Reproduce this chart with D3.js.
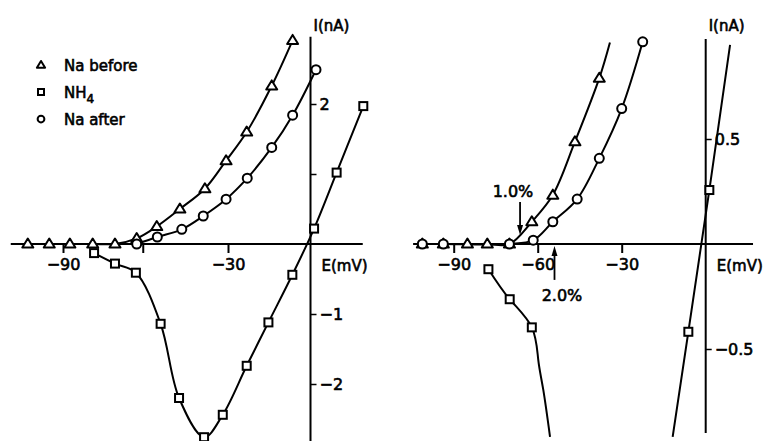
<!DOCTYPE html>
<html>
<head>
<meta charset="utf-8">
<script src="https://cdn.jsdelivr.net/npm/d3@7"></script>
<style>
  body { margin: 0; background: #fff; }
  text { font-family: "DejaVu Sans", sans-serif; fill: #000; stroke: #000; stroke-width: 0.6px; }
</style>
</head>
<body>
<svg id="chart"></svg>
<script>
// ---- data: [E (mV), I (nA)] ----
// left panel
const leftNaBefore = [[-102.8, 0], [-95, 0], [-87.5, 0], [-79.2, 0], [-71.1, 0], [-63.2, 0.08], [-55.9, 0.25],
  [-47.5, 0.5], [-38.4, 0.79], [-30.7, 1.19], [-23.2, 1.6], [-14.1, 2.26], [-6.5, 2.91]];
const leftNaAfter = [[-63.2, 0], [-55.7, 0.1], [-46.8, 0.21], [-39, 0.4], [-30.7, 0.64], [-23, 0.94],
  [-14.1, 1.38], [-6.5, 1.84], [2.0, 2.49]];
const leftNH4 = [[-78.7, -0.13], [-71.1, -0.28], [-63.5, -0.41], [-54.5, -1.14], [-47.8, -2.2], [-38.7, -2.76],
  [-31.9, -2.44], [-23.2, -1.74], [-15.3, -1.12], [-6.6, -0.44], [1.3, 0.22], [9.5, 1.02], [19.2, 1.97]];

// right panel
const rightNaBefore = [[-101.2, 0], [-93.7, 0], [-85.1, 0], [-78, 0], [-70.1, 0], [-62.1, 0.106], [-54.6, 0.233],
  [-46.7, 0.487], [-38, 0.79]];
const rightNaBeforeEnd = [-34.2, 0.96];
const rightNaAfter = [[-101.2, 0], [-93.7, 0], [-70.1, 0], [-61.6, 0.018], [-54.6, 0.106], [-45.9, 0.214],
  [-38, 0.408], [-30, 0.645], [-22.5, 0.963]];
const rightNH4Low = [[-77.6, -0.12], [-70, -0.263], [-62.1, -0.397]];
const rightNH4LowTail = [[-59.8, -0.552], [-58, -0.695], [-55.6, -0.918]];
const rightNH4High = [[-6.2, -0.418], [1.3, 0.257]];
const rightNH4HighEnds = [[-11.8, -0.918], [8.7, 0.948]];

const leftXTicks = [-90, -61, -30];
const leftXLabels = ["−90", "", "−30"];
const leftYTicks = [2, 1, -1, -2];
const leftYLabels = ["2", "", "−1", "−2"];
const rightXTicks = [-90, -60, -30];
const rightXLabels = ["−90", "−60", "−30"];
const rightYTicks = [0.5, -0.5];
const rightYLabels = ["0.5", "−0.5"];

const legend = [
  { shape: "triangle", label: "Na before" },
  { shape: "square", label: "NH", sub: "4" },
  { shape: "circle", label: "Na after" }
];

const width = 769, height = 441;
const svg = d3.select("#chart").attr("width", width).attr("height", height);

const xL = d3.scaleLinear().domain([-100, 0]).range([35.5, 310.5]);
const yL = d3.scaleLinear().domain([-3, 3]).range([454, 34]);
const xR = d3.scaleLinear().domain([-100, 0]).range([425.7, 705.7]);
const yR = d3.scaleLinear().domain([-1, 1]).range([454, 34]);

const curve = d3.curveCatmullRom.alpha(0.5);
const sw = 2;

function drawLine(g, pts, x, y, c) {
  g.append("path")
    .datum(pts)
    .attr("fill", "none")
    .attr("stroke", "#000")
    .attr("stroke-width", sw)
    .attr("stroke-linejoin", "round")
    .attr("d", d3.line().x(d => x(d[0])).y(d => y(d[1])).curve(c || curve));
}

function marker(g, shape, cx, cy, s) {
  if (shape === "circle") {
    g.append("circle").attr("cx", cx).attr("cy", cy).attr("r", s * 0.45)
      .attr("fill", "#fff").attr("stroke", "#000").attr("stroke-width", sw);
  } else if (shape === "square") {
    g.append("rect").attr("x", cx - s * 0.4).attr("y", cy - s * 0.4)
      .attr("width", s * 0.8).attr("height", s * 0.8)
      .attr("fill", "#fff").attr("stroke", "#000").attr("stroke-width", sw);
  } else {
    const h = s * 0.9;
    g.append("path")
      .attr("d", `M${cx},${cy - h * 0.6}L${cx + s * 0.55},${cy + h * 0.4}L${cx - s * 0.55},${cy + h * 0.4}Z`)
      .attr("fill", "#fff").attr("stroke", "#000").attr("stroke-width", sw).attr("stroke-linejoin", "round");
  }
}

function drawMarkers(g, pts, x, y, shape) {
  pts.forEach(d => marker(g, shape, x(d[0]), y(d[1]), 10));
}

function drawAxes(g, x, y, xExt, yExt, xt, xl, yt, yl, eLabel) {
  // axis lines through origin
  g.append("line").attr("x1", x(xExt[0])).attr("x2", x(xExt[1]))
    .attr("y1", y(0)).attr("y2", y(0)).attr("stroke", "#000").attr("stroke-width", sw);
  g.append("line").attr("x1", x(0)).attr("x2", x(0))
    .attr("y1", y(yExt[1])).attr("y2", y(yExt[0])).attr("stroke", "#000").attr("stroke-width", sw);

  const xa = g.append("g").attr("transform", `translate(0,${y(0)})`)
    .call(d3.axisBottom(x).tickValues(xt).tickSize(9).tickPadding(6).tickFormat((d, i) => xl[i]));
  xa.select(".domain").remove();
  xa.selectAll("line").attr("stroke-width", sw);
  xa.selectAll("text").style("font-size", "16px").style("font-family", "DejaVu Sans").attr("fill", "#000");

  const ya = g.append("g").attr("transform", `translate(${x(0)},0)`)
    .call(d3.axisRight(y).tickValues(yt).tickSize(6).tickPadding(3).tickFormat((d, i) => yl[i]));
  ya.select(".domain").remove();
  ya.selectAll("line").attr("stroke-width", 1.5);
  ya.selectAll("text").style("font-size", "16px").style("font-family", "DejaVu Sans").attr("fill", "#000");

  g.append("text").attr("x", x(0) + 3).attr("y", 31).style("font-size", "15px").text("I(nA)");
  g.append("text").attr("x", x(0) + 11).attr("y", y(0) + 27).style("font-size", "15px").text(eLabel);
}

// ---- left panel ----
const gl = svg.append("g");
drawAxes(gl, xL, yL, [-109, 19], [-2.82, 2.96], leftXTicks, leftXLabels, leftYTicks, leftYLabels, "E(mV)");
drawLine(gl, leftNaBefore, xL, yL);
drawLine(gl, leftNaAfter, xL, yL);
drawLine(gl, leftNH4, xL, yL);
drawMarkers(gl, leftNaBefore, xL, yL, "triangle");
drawMarkers(gl, leftNaAfter, xL, yL, "circle");
drawMarkers(gl, leftNH4, xL, yL, "square");

// legend
legend.forEach((d, i) => {
  const ly = 65 + i * 27;
  marker(gl, d.shape, 41, ly, 7.5);
  const t = gl.append("text").attr("x", 64).attr("y", ly + 6).style("font-size", "15px").text(d.label);
  if (d.sub) t.append("tspan").attr("dy", 5).style("font-size", "12px").text(d.sub);
});

// ---- right panel ----
const gr = svg.append("g");
drawAxes(gr, xR, yR, [-104.5, 16.9], [-0.9, 0.976], rightXTicks, rightXLabels, rightYTicks, rightYLabels, "E(mV)");
drawLine(gr, rightNaBefore.concat([rightNaBeforeEnd]), xR, yR);
drawLine(gr, rightNaAfter, xR, yR);
drawLine(gr, rightNH4Low.concat(rightNH4LowTail), xR, yR, d3.curveNatural);
drawLine(gr, [rightNH4HighEnds[0], ...rightNH4High, rightNH4HighEnds[1]], xR, yR, d3.curveLinear);
drawMarkers(gr, rightNaBefore, xR, yR, "triangle");
drawMarkers(gr, rightNaAfter, xR, yR, "circle");
drawMarkers(gr, rightNH4Low, xR, yR, "square");
drawMarkers(gr, rightNH4High, xR, yR, "square");

// threshold arrows
const arrows = [
  { label: "1.0%", e: -66.3, from: 0.2, to: 0.043, ty: 197, tx: 513 },
  { label: "2.0%", e: -54, from: -0.171, to: -0.01, ty: 301, tx: 562 }
];
arrows.forEach(a => {
  const ax = xR(a.e), y1 = yR(a.from), y2 = yR(a.to);
  const dir = y2 > y1 ? 1 : -1;
  gr.append("line").attr("x1", ax).attr("x2", ax).attr("y1", y1).attr("y2", y2 - dir * 6)
    .attr("stroke", "#000").attr("stroke-width", 1.8);
  gr.append("path")
    .attr("d", `M${ax},${y2}L${ax - 3},${y2 - dir * 10}L${ax + 3},${y2 - dir * 10}Z`)
    .attr("fill", "#000");
  gr.append("text").attr("x", a.tx).attr("y", a.ty).attr("text-anchor", "middle")
    .style("font-size", "16px").text(a.label);
});
</script>
</body>
</html>
